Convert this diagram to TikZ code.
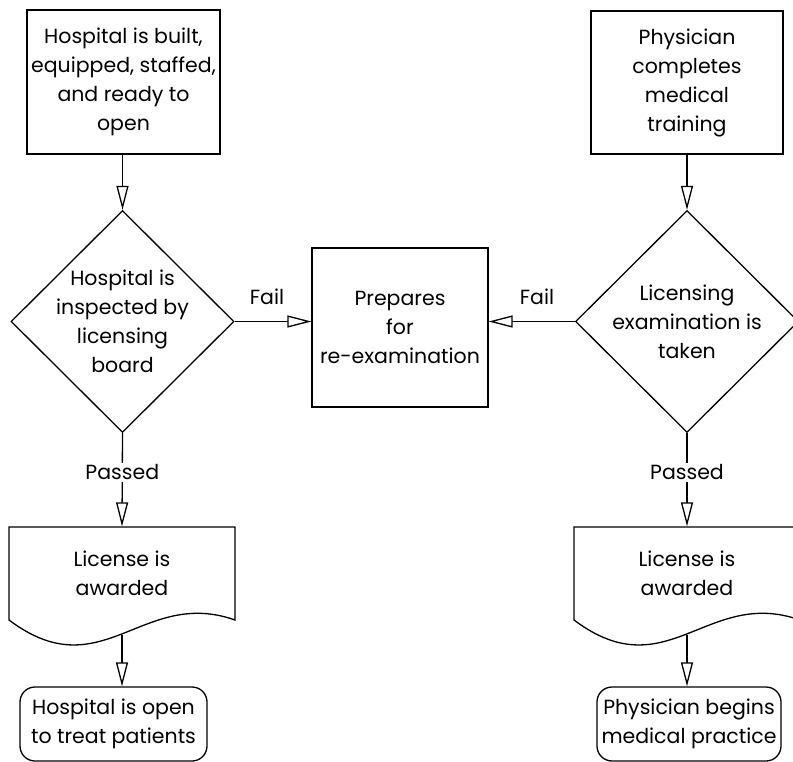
\documentclass[tikz,border=0pt]{standalone}
\usepackage{fontspec}
\setmainfont{Poppins}
\usetikzlibrary{arrows.meta,shapes.geometric}
\begin{document}
\begin{tikzpicture}[x=1pt,y=-1pt,line width=1.3pt,
  txt/.style={font=\fontsize{20.5}{29}\selectfont,align=center,inner sep=0pt},
  box/.style={draw,rectangle,inner sep=0pt},
  decision/.style={draw,diamond,inner sep=0pt,minimum width=223pt,minimum height=222pt},
  docshape/.style={rectangle,inner sep=0pt,minimum width=226pt,minimum height=93pt},
  terminal/.style={draw,rectangle,rounded corners=15pt,inner sep=0pt,minimum height=74pt},
  arr/.style={-{Triangle[open,length=24pt,width=12pt]}},
  lbl/.style={txt,fill=white,inner sep=2pt}
]
\useasboundingbox (0,0) rectangle (793,762);
\clip (0,0) rectangle (793,762);

% process boxes
\node[box,minimum width=193pt,minimum height=144pt] (hbuilt) at (123.5,82) {};
\node[txt] (hbuiltT) at (hbuilt) {Hospital is built,\\equipped, staffed,\\and ready to\\open};
\node[box,minimum width=192pt,minimum height=143pt] (ptrain) at (687,82.5) {};
\node[txt] (ptrainT) at (ptrain) {Physician\\completes\\medical\\training};
\node[box,minimum width=176pt,minimum height=159pt] (prep) at (400,327.5) {};
\node[txt] (prepT) at (prep) {Prepares\\for\\re-examination};

% decisions
\node[decision] (hinsp) at (122.5,321.5) {};
\node[txt] (hinspT) at (hinsp) {Hospital is\\inspected by\\licensing\\board};
\node[decision] (pexam) at (687,321.5) {};
\node[txt] (pexamT) at (pexam) {Licensing\\examination is\\taken};

% documents with wavy bottom
\node[docshape] (hdoc) at (122,573.5) {};
\node[docshape] (pdoc) at (687,573.5) {};
\node[txt] (hdocT) at (hdoc) {License is\\awarded};
\node[txt] (pdocT) at (pdoc) {License is\\awarded};
\foreach \d in {hdoc,pdoc}{
  \begin{scope}[shift={(\d.center)}]
    \draw (-113,46.5) -- (-113,-46.5) -- (113,-46.5) -- (113,46.5)
      .. controls (20,13.5) and (-20,116.5) .. (-113,46.5) -- cycle;
  \end{scope}
}
\coordinate (hdocw) at ([yshift=-14pt]hdoc.south);
\coordinate (pdocw) at ([yshift=-14pt]pdoc.south);

% terminals
\node[terminal,minimum width=187pt] (hopen) at (113.5,724) {};
\node[txt] (hopenT) at (hopen) {Hospital is open\\to treat patients};
\node[terminal,minimum width=184pt] (ppract) at (689,724) {};
\node[txt] (ppractT) at (ppract) {Physician begins\\medical practice};

% connectors
\draw[arr] (hbuilt.south -| hinsp.north) -- (hinsp.north);
\draw[arr] (ptrain.south -| pexam.north) -- (pexam.north);
\draw[arr] (hinsp.east) -- (prep.west |- hinsp.east);
\draw[arr] (pexam.west) -- (prep.east |- pexam.west);
\node[txt] (fail1) at (267,297) {Fail};
\node[txt] (fail2) at (537,297) {Fail};
\draw[arr] (hinsp.south) -- node[lbl,pos=0.42] (pass1) {Passed} (hdoc.north);
\draw[arr] (pexam.south) -- node[lbl,pos=0.42] (pass2) {Passed} (pdoc.north);
\draw[arr] (hdocw) -- (hdocw |- hopen.north);
\draw[arr] (pdocw) -- (pdocw |- ppract.north);
\end{tikzpicture}
\end{document}
